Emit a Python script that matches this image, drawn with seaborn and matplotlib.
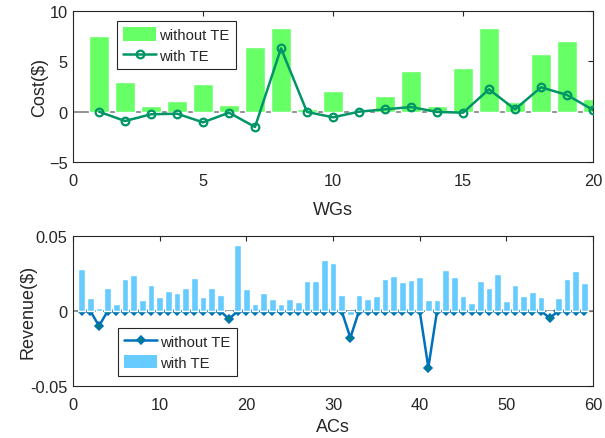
import numpy as np
import pandas as pd
import matplotlib
matplotlib.use("Agg")
import matplotlib.pyplot as plt
import seaborn as sns
from matplotlib.patches import Patch
from matplotlib.lines import Line2D

# ---------------- data ----------------
wg_ids = list(range(1, 21))
cost_without_te = [7.5, 2.95, 0.56, 1.09, 2.75, 0.66, 6.42, 8.31, 0.30, 2.05,
                   0.05, 1.56, 4.04, 0.56, 4.34, 8.31, 0.93, 5.73, 7.02, 1.26]
cost_with_te = [0.0, -0.93, -0.26, -0.20, -1.06, -0.10, -1.52, 6.29, -0.03, -0.56,
                0.0, 0.23, 0.46, -0.03, -0.10, 2.22, 0.23, 2.42, 1.66, 0.17]

ac_ids = list(range(1, 60))
rev_with_te = [0.0281, 0.0087, 0.0020, 0.0154, 0.0047, 0.0214, 0.0241, 0.0074, 0.0174, 0.0094,
               0.0134, 0.0121, 0.0154, 0.0221, 0.0094, 0.0154, 0.0107, -0.0006, 0.0442, 0.0147,
               0.0047, 0.0121, 0.0080, 0.0047, 0.0080, 0.0060, 0.0201, 0.0201, 0.0342, 0.0317,
               0.0107, -0.0025, 0.0107, 0.0080, 0.0100, 0.0214, 0.0234, 0.0194, 0.0208, 0.0228,
               0.0074, 0.0074, 0.0275, 0.0228, 0.0100, 0.0054, 0.0201, 0.0154, 0.0248, 0.0067,
               0.0174, 0.0100, 0.0127, 0.0094, -0.0003, 0.0087, 0.0214, 0.0268, 0.0188]
rev_without_te = [0.0] * 59
rev_without_te[2] = -0.0100
rev_without_te[17] = -0.0054
rev_without_te[31] = -0.0179
rev_without_te[40] = -0.0377
rev_without_te[54] = -0.0047

top_df = pd.DataFrame({"WG": wg_ids, "without": cost_without_te, "with": cost_with_te})
bot_df = pd.DataFrame({"AC": ac_ids, "without": rev_without_te, "with": rev_with_te})

# ---------------- style ----------------
sns.set_theme(style="white")
plt.rcParams["font.family"] = ["Liberation Sans", "DejaVu Sans"]
plt.rcParams["text.color"] = "#262626"
plt.rcParams["axes.labelcolor"] = "#262626"
plt.rcParams["xtick.color"] = "#262626"
plt.rcParams["ytick.color"] = "#262626"

GREEN_BAR = "#66FF66"
GREEN_LINE = "#009566"
BLUE_BAR = "#66CCFF"
BLUE_LINE = "#0072BD"
TEAL = "#008080"

TICK_FS = 11.75
LABEL_FS = 13
LEG_FS = 10.75

fig = plt.figure(figsize=(6.05, 4.39), dpi=100)
ax1 = fig.add_axes([0.1207, 0.6287, 0.8595, 0.3440])
ax2 = fig.add_axes([0.1207, 0.1185, 0.8595, 0.3416])

def style_axes(ax):
    for s in ax.spines.values():
        s.set_color("#262626")
        s.set_linewidth(0.8)
    ax.tick_params(direction="in", top=True, right=True, length=3.5, width=0.8,
                   labelsize=TICK_FS)
    ax.tick_params(axis="x", pad=8)
    ax.tick_params(axis="y", pad=4)

leg_kw = dict(fontsize=LEG_FS, frameon=True, framealpha=1, fancybox=False,
              edgecolor="#262626", borderpad=0.42, handlelength=2.2,
              handleheight=1.0, handletextpad=0.2, labelspacing=0.4,
              borderaxespad=0, loc="upper left")

# ---------------- top ----------------
ax1.axhline(0, color="#808080", lw=1.2, zorder=1)
sns.barplot(data=top_df, x="WG", y="without", native_scale=True, width=0.8,
            color=GREEN_BAR, saturation=1, ax=ax1, zorder=2)
sns.lineplot(data=top_df, x="WG", y="with", ax=ax1, color=GREEN_LINE, lw=1.8,
             marker="o", markersize=5.5, markerfacecolor="none",
             markeredgecolor=GREEN_LINE, markeredgewidth=1.6, zorder=3)
ax1.set_xlim(0, 20)
ax1.set_ylim(-5, 10)
ax1.set_xticks([0, 5, 10, 15, 20])
ax1.set_yticks([-5, 0, 5, 10])
ax1.set_xlabel("WGs", fontsize=LABEL_FS)
ax1.set_ylabel("Cost($)", fontsize=LABEL_FS)
ax1.yaxis.set_label_coords(-0.048, 0.5)
ax1.xaxis.set_label_coords(0.5, -0.258)
style_axes(ax1)
h1 = [Patch(facecolor=GREEN_BAR, edgecolor="none"),
      Line2D([0], [0], color=GREEN_LINE, lw=1.8, marker="o", markersize=5.5,
             markerfacecolor="none", markeredgecolor=GREEN_LINE, markeredgewidth=1.6)]
leg1 = ax1.legend(h1, ["without TE", "with TE"], bbox_to_anchor=(0.0846, 0.934), **leg_kw)
leg1.get_frame().set_linewidth(0.8)

# ---------------- bottom ----------------
ax2.axhline(0, color="#808080", lw=1.2, zorder=1)
sns.lineplot(data=bot_df, x="AC", y="without", ax=ax2, color=BLUE_LINE, lw=1.8,
             marker="D", markersize=4.3, markerfacecolor=TEAL,
             markeredgecolor=BLUE_LINE, markeredgewidth=1.1, zorder=2)
sns.barplot(data=bot_df, x="AC", y="with", native_scale=True, width=0.8,
            color=BLUE_BAR, saturation=1, ax=ax2, zorder=3)
ax2.set_xlim(0, 60)
ax2.set_ylim(-0.05, 0.05)
ax2.set_xticks([0, 10, 20, 30, 40, 50, 60])
ax2.set_yticks([-0.05, 0, 0.05])
ax2.set_yticklabels(["-0.05", "0", "0.05"])
ax2.set_xlabel("ACs", fontsize=LABEL_FS)
ax2.set_ylabel("Revenue($)", fontsize=LABEL_FS)
ax2.yaxis.set_label_coords(-0.071, 0.5)
ax2.xaxis.set_label_coords(0.5, -0.213)
style_axes(ax2)
h2 = [Line2D([0], [0], color=BLUE_LINE, lw=1.8, marker="D", markersize=4.3,
             markerfacecolor=TEAL, markeredgecolor=BLUE_LINE, markeredgewidth=1.1),
      Patch(facecolor=BLUE_BAR, edgecolor="none")]
leg2 = ax2.legend(h2, ["without TE", "with TE"], bbox_to_anchor=(0.0865, 0.387), **leg_kw)
leg2.get_frame().set_linewidth(0.8)

fig.savefig("out.png", dpi=100)
